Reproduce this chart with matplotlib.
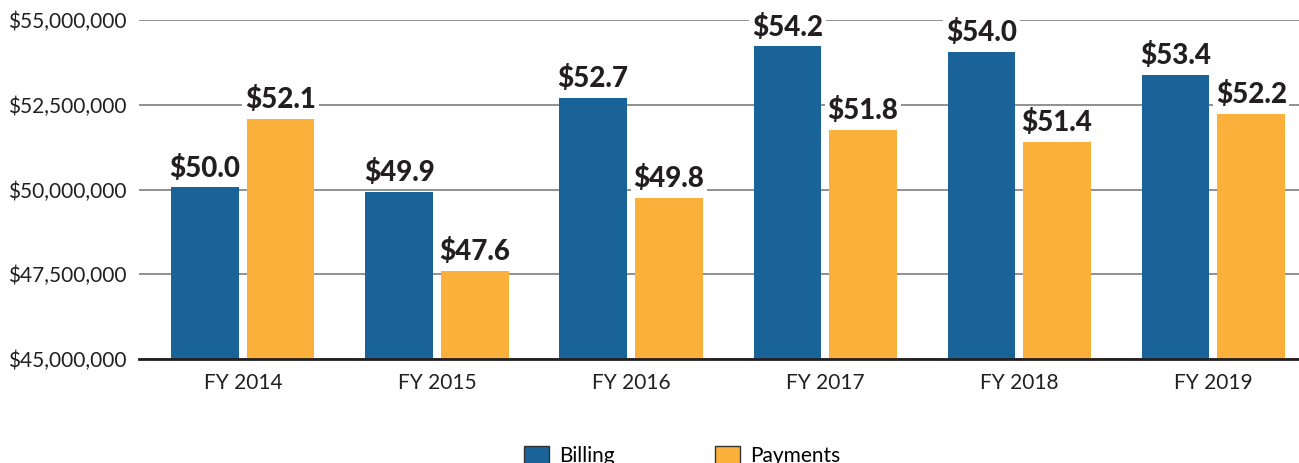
import matplotlib
matplotlib.use("Agg")
import matplotlib.pyplot as plt
import numpy as np
from matplotlib.ticker import FuncFormatter
from matplotlib.patches import Patch

plt.rcParams['font.family'] = ['Lato', 'DejaVu Sans']

years = ['FY 2014', 'FY 2015', 'FY 2016', 'FY 2017', 'FY 2018', 'FY 2019']
billing = [50.07, 49.93, 52.70, 54.23, 54.06, 53.38]
payments = [52.08, 47.60, 49.75, 51.76, 51.40, 52.23]
billing_labels = ['$50.0', '$49.9', '$52.7', '$54.2', '$54.0', '$53.4']
payments_labels = ['$52.1', '$47.6', '$49.8', '$51.8', '$51.4', '$52.2']

blue = '#1a6399'
orange = '#fbb03b'

fig = plt.figure(figsize=(12.99, 4.63), dpi=100)
ax = fig.add_axes([0.107, 0.2246, 0.9, 0.7322])

x = np.arange(len(years))
w = 0.348
off = 0.195
b1 = ax.bar(x - off, np.array(billing) * 1e6, w, color=blue, zorder=2)
b2 = ax.bar(x + off, np.array(payments) * 1e6, w, color=orange, zorder=2)

for bars, labels in ((b1, billing_labels), (b2, payments_labels)):
    for r, lab in zip(bars, labels):
        ax.annotate(lab, (r.get_x() + r.get_width() / 2, r.get_height()),
                    xytext=(0, 4), textcoords='offset points', ha='center', va='bottom',
                    fontsize=20, fontweight='black', color='#231f20', zorder=3,
                    bbox=dict(boxstyle='square,pad=0.1', fc='white', ec='none'))

ax.set_ylim(45e6, 55e6)
ax.set_yticks(np.arange(45e6, 55.1e6, 2.5e6))
ax.yaxis.set_major_formatter(FuncFormatter(lambda v, p: '${:,.0f}'.format(v)))
ax.set_xlim(-0.535, 5.488)
ax.set_xticks(x)
ax.set_xticklabels(years)
ax.tick_params(axis='both', length=0, labelsize=15, colors='#231f20')
ax.tick_params(axis='y', pad=9)
ax.tick_params(axis='x', pad=10)
ax.grid(axis='y', color='#888888', linewidth=1.3, zorder=0)
for s in ['top', 'right', 'left']:
    ax.spines[s].set_visible(False)
ax.spines['bottom'].set_color('#231f20')
ax.spines['bottom'].set_linewidth(2)
ax.spines['bottom'].set_zorder(3)

handles = [Patch(facecolor=blue, edgecolor='#333333', label='Billing'),
           Patch(facecolor=orange, edgecolor='#333333', label='Payments')]
fig.legend(handles=handles, loc='upper center', bbox_to_anchor=(0.525, 0.078), ncol=2,
           frameon=False, fontsize=15, columnspacing=4.8, handlelength=1.2, handleheight=1.0,
           handletextpad=0.5)

fig.savefig('out.png', dpi=100)
